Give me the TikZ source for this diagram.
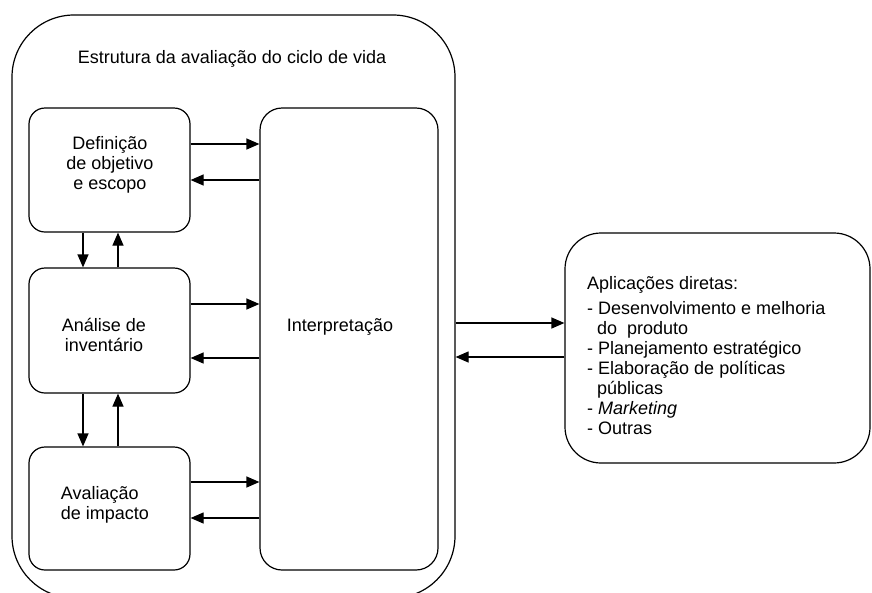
\documentclass[tikz,border=0pt]{standalone}
\usepackage{fontspec}
\setmainfont{Liberation Sans}
\usetikzlibrary{arrows.meta}
\begin{document}
\begin{tikzpicture}[x=1pt,y=-1pt,
  every node/.style={font=\fontsize{18}{20}\selectfont, inner sep=0pt},
  rbox/.style={draw, line width=1.2pt, rounded corners=16pt, minimum width=161pt},
  arr/.style={line width=1.2pt, -{Triangle[length=13pt,width=11pt]}},
  txt/.style={align=center}]
\useasboundingbox (0,0) rectangle (872,592);
\node[draw, line width=1.2pt, rounded corners=62pt, minimum width=443pt, minimum height=583pt] (outer) at (233.5,306.5) {};
\node[txt] (title) at (232,59) {Estrutura da avaliação do ciclo de vida};
\node[rbox, minimum height=124pt] (def) at (109.5,170) {};
\node[rbox, minimum height=125pt] (ana) at (109.5,330.5) {};
\node[rbox, minimum height=123pt] (ava) at (109.5,508.5) {};
\node[draw, line width=1.2pt, rounded corners=22pt, minimum width=178pt, minimum height=462pt] (interp) at (349,339) {};
\node[draw, line width=1.2pt, rounded corners=36pt, minimum width=305pt, minimum height=230pt] (apl) at (717.5,348) {};
\node[txt] (deft) at (110,165) {Definição\\de objetivo\\e escopo};
\node[txt] (anat) at (104,335) {Análise de\\inventário};
\node[align=left] (avat) at (105,505) {Avaliação\\de impacto};
\node[txt] (intt) at (340,327) {Interpretação};
\node[align=left, anchor=north west] (aplt) at (587,276) {Aplicações diretas:\\[5pt]- Desenvolvimento e melhoria\\\ \ do\ \ produto\\- Planejamento estratégico\\- Elaboração de políticas\\\ \ públicas\\- \textit{Marketing}\\- Outras};
% horizontal arrows
\draw[arr] (def.east |- 0,144) -- (interp.west |- 0,144);
\draw[arr] (interp.west |- 0,180) -- (def.east |- 0,180);
\draw[arr] (ana.east |- 0,304) -- (interp.west |- 0,304);
\draw[arr] (interp.west |- 0,358) -- (ana.east |- 0,358);
\draw[arr] (ava.east |- 0,482) -- (interp.west |- 0,482);
\draw[arr] (interp.west |- 0,518) -- (ava.east |- 0,518);
% vertical arrows
\draw[arr] (def.south -| 83,0) -- (ana.north -| 83,0);
\draw[arr] (ana.north -| 118,0) -- (def.south -| 118,0);
\draw[arr] (ana.south -| 83,0) -- (ava.north -| 83,0);
\draw[arr] (ava.north -| 118,0) -- (ana.south -| 118,0);
% outer to applications
\draw[arr] (outer.east |- 0,323) -- (apl.west |- 0,323);
\draw[arr] (apl.west |- 0,357) -- (outer.east |- 0,357);
\end{tikzpicture}
\end{document}
